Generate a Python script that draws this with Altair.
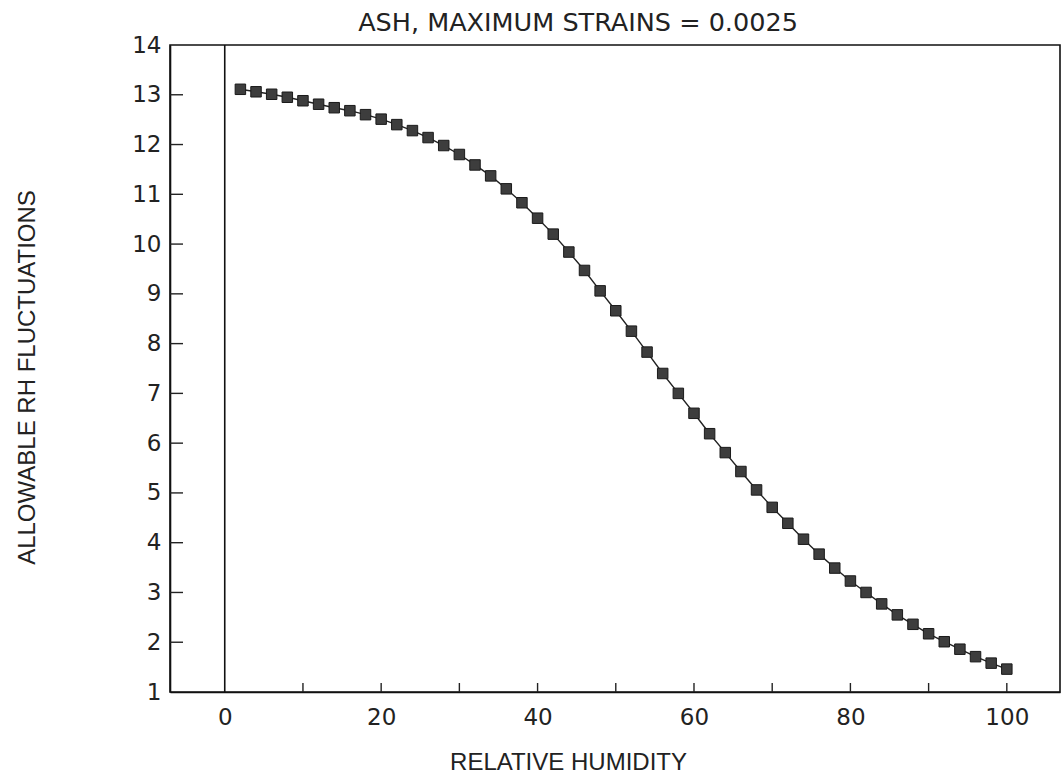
import altair as alt
import pandas as pd

# Data
rh = list(range(2, 101, 2))
fluct = [13.11, 13.06, 13.01, 12.95, 12.88, 12.81, 12.74, 12.68, 12.60, 12.51,
         12.40, 12.28, 12.14, 11.98, 11.80, 11.59, 11.37, 11.11, 10.83, 10.52,
         10.20, 9.84, 9.47, 9.06, 8.66, 8.25, 7.83, 7.40, 7.00, 6.60,
         6.19, 5.81, 5.43, 5.06, 4.71, 4.39, 4.07, 3.77, 3.49, 3.23,
         3.00, 2.77, 2.55, 2.36, 2.17, 2.01, 1.86, 1.71, 1.58, 1.46]
x_label_values = [0, 20, 40, 60, 80, 100]
x_tick_values = [10, 20, 30, 40, 50, 60, 70, 80, 90, 100]
y_label_values = list(range(1, 15))
y_tick_values = list(range(2, 14))

df = pd.DataFrame({"rh": rh, "fluct": fluct})
xt = pd.DataFrame({"v": x_tick_values})
yt = pd.DataFrame({"v": y_tick_values})

W, H = 890, 647
xscale = alt.Scale(domain=[-7, 106.8], nice=False, zero=False)
yscale = alt.Scale(domain=[1, 14], nice=False, zero=False)

xaxis = alt.Axis(values=x_label_values, ticks=False, domain=True, domainColor="#111",
                 domainWidth=1.6, grid=False,
                 labelFont="DejaVu Sans", labelFontSize=23, labelColor="#222",
                 labelPadding=14, title="RELATIVE HUMIDITY",
                 titleFont="Liberation Sans", titleFontSize=24, titleFontWeight="normal",
                 titleColor="#222", titleX=398, titleY=70, titleBaseline="middle",
                 titleAlign="center")
yaxis = alt.Axis(values=y_label_values, ticks=False, domain=True, domainColor="#111",
                 domainWidth=1.6, grid=False,
                 labelFont="DejaVu Sans", labelFontSize=23, labelColor="#222",
                 labelPadding=9, title="ALLOWABLE RH FLUCTUATIONS",
                 titleFont="Liberation Sans", titleFontSize=24, titleFontWeight="normal",
                 titleColor="#222", titleX=-143, titleY=332, titleBaseline="middle",
                 titleAlign="center", titleAngle=-90)

base = alt.Chart(df)

line = base.mark_line(color="#222", strokeWidth=1.4).encode(
    x=alt.X("rh:Q", scale=xscale, axis=xaxis),
    y=alt.Y("fluct:Q", scale=yscale, axis=yaxis),
)
points = base.mark_square(size=110, color="#3d3d3d", stroke="#1a1a1a",
                          strokeWidth=1, opacity=1).encode(
    x=alt.X("rh:Q", scale=xscale),
    y=alt.Y("fluct:Q", scale=yscale),
)
zero = alt.Chart(pd.DataFrame({"v": [0]})).mark_rule(color="#111", strokeWidth=1.6).encode(
    x=alt.X("v:Q", scale=xscale)
)
xticks = alt.Chart(xt).mark_rule(color="#222", strokeWidth=1.4).encode(
    x=alt.X("v:Q", scale=xscale), y=alt.value(H), y2=alt.value(H - 9)
)
yticks = alt.Chart(yt).mark_rule(color="#222", strokeWidth=1.4).encode(
    y=alt.Y("v:Q", scale=yscale), x=alt.value(0), x2=alt.value(13)
)

chart = alt.layer(zero, xticks, yticks, line, points).properties(
    width=W, height=H,
    title=alt.TitleParams("ASH, MAXIMUM STRAINS = 0.0025", font="DejaVu Sans",
                          fontSize=25.5, fontWeight="normal", color="#222",
                          anchor="middle", dx=-37, offset=-2),
    padding={"left": 170, "top": 45, "right": 2, "bottom": 86},
    autosize=alt.AutoSizeParams(type="none"),
    background="white",
).configure_view(stroke="#111", strokeWidth=1.6)

chart.save("out.html", embed_options={"renderer": "svg", "actions": False})
